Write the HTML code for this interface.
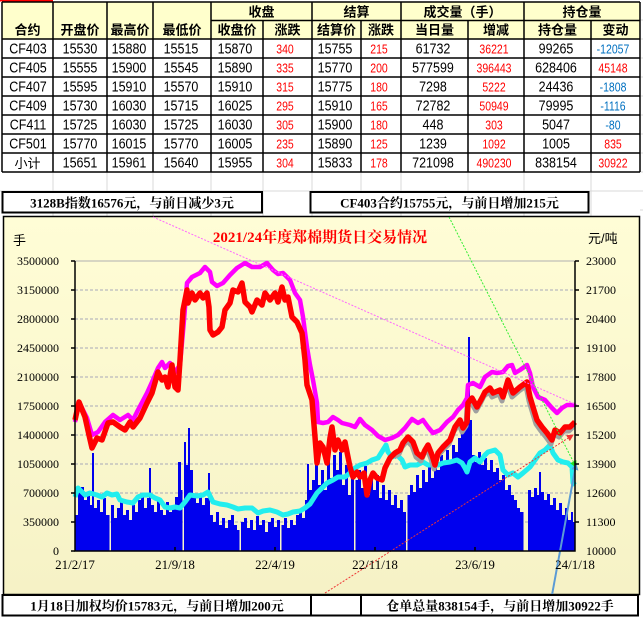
<!DOCTYPE html>
<html><head><meta charset="utf-8">
<style>
html,body{margin:0;padding:0;background:#fff;}
body{width:643px;height:617px;overflow:hidden;}
svg{display:block;}
</style></head>
<body>
<svg width="643" height="617" viewBox="0 0 643 617" xmlns="http://www.w3.org/2000/svg">
<defs>
<linearGradient id="bg" x1="0" y1="0" x2="0" y2="1"><stop offset="0" stop-color="#fffdd6"/><stop offset="1" stop-color="#f6f2c6"/></linearGradient>
<marker id="ag" markerWidth="7" markerHeight="7" refX="6" refY="3.5" orient="auto" markerUnits="userSpaceOnUse"><path d="M0,0 L7,3.5 L0,7 Z" fill="#22dd22"/></marker>
<marker id="ar" markerWidth="7" markerHeight="7" refX="6" refY="3.5" orient="auto" markerUnits="userSpaceOnUse"><path d="M0,0 L7,3.5 L0,7 Z" fill="#ee3333"/></marker>
<marker id="ab" markerWidth="7" markerHeight="7" refX="6" refY="3.5" orient="auto" markerUnits="userSpaceOnUse"><path d="M0,0 L7,3.5 L0,7 Z" fill="#5b9bd5"/></marker>
</defs>

<!-- spreadsheet faint grid -->
<g stroke="#d8d8d8" stroke-width="1">
<path d="M53,172V216M107,172V216M153,172V216M211,172V216M263,172V216M312,172V216M361,172V216M401,172V216M468,172V216M524,172V216M591,172V216"/>
<path d="M640,20H643M640,39H643M640,58H643M640,77H643M640,96H643M640,115H643M640,134H643M640,153H643M640,172H643M640,191H643M640,210H643M0,191H643"/>
</g>
<rect x="0" y="0" width="53" height="1.5" fill="#ff0000"/>

<!-- table -->
<rect x="2" y="2" width="638" height="37" fill="#ffffcc"/>
<rect x="2" y="39" width="638" height="133" fill="#ffffff"/>
<g stroke="#000" stroke-width="1.5" fill="none">
<path d="M2,2H640M211,20.5H640M2,39H640M2,58H640M2,77H640M2,96H640M2,115H640M2,134H640M2,153H640M2,172H640"/>
<path d="M2,2V172M53,2V172M107,2V172M153,2V172M211,2V172M312,2V172M401,2V172M524,2V172M640,2V172M263,20.5V172M361,20.5V172M468,20.5V172M591,20.5V172"/>
</g>
<g font-family="'Liberation Sans','Noto Sans CJK SC',sans-serif" font-weight="bold" font-size="13" text-anchor="middle" fill="#000">
<text x="261.5" y="16.5">收盘</text>
<text x="356.5" y="16.5">结算</text>
<text x="462.5" y="16.5">成交量（手）</text>
<text x="582" y="16.5">持仓量</text>
<text x="27.5" y="34.5">合约</text>
<text x="80" y="34.5">开盘价</text>
<text x="130" y="34.5">最高价</text>
<text x="182" y="34.5">最低价</text>
<text x="237" y="34.5">收盘价</text>
<text x="287.5" y="34.5">涨跌</text>
<text x="336.5" y="34.5">结算价</text>
<text x="381" y="34.5">涨跌</text>
<text x="434.5" y="34.5">当日量</text>
<text x="496" y="34.5">增减</text>
<text x="557.5" y="34.5">持仓量</text>
<text x="615.5" y="34.5">变动</text>
</g>

<g font-family="'Liberation Sans',sans-serif" font-size="12.5" text-anchor="middle" fill="#000">
<g transform="translate(0,53.5) scale(1,1.2)">
<text x="28">CF403</text><text x="80">15530</text><text x="129">15880</text><text x="181">15515</text><text x="235">15870</text>
<text x="285" fill="#f00" font-size="10.5">340</text><text x="335">15755</text><text x="379" fill="#f00" font-size="10.5">215</text>
<text x="433">61732</text><text x="494" fill="#f00" font-size="10.5">36221</text><text x="556">99265</text><text x="613" fill="#0070c0" font-size="10.5">-12057</text>
</g>
<g transform="translate(0,72.5) scale(1,1.2)">
<text x="28">CF405</text><text x="80">15555</text><text x="129">15900</text><text x="181">15545</text><text x="235">15890</text>
<text x="285" fill="#f00" font-size="10.5">335</text><text x="335">15770</text><text x="379" fill="#f00" font-size="10.5">200</text>
<text x="433">577599</text><text x="494" fill="#f00" font-size="10.5">396443</text><text x="556">628406</text><text x="613" fill="#f00" font-size="10.5">45148</text>
</g>
<g transform="translate(0,91.5) scale(1,1.2)">
<text x="28">CF407</text><text x="80">15595</text><text x="129">15910</text><text x="181">15570</text><text x="235">15910</text>
<text x="285" fill="#f00" font-size="10.5">315</text><text x="335">15775</text><text x="379" fill="#f00" font-size="10.5">180</text>
<text x="433">7298</text><text x="494" fill="#f00" font-size="10.5">5222</text><text x="556">24436</text><text x="613" fill="#0070c0" font-size="10.5">-1808</text>
</g>
<g transform="translate(0,110.5) scale(1,1.2)">
<text x="28">CF409</text><text x="80">15730</text><text x="129">16030</text><text x="181">15715</text><text x="235">16025</text>
<text x="285" fill="#f00" font-size="10.5">295</text><text x="335">15910</text><text x="379" fill="#f00" font-size="10.5">165</text>
<text x="433">72782</text><text x="494" fill="#f00" font-size="10.5">50949</text><text x="556">79995</text><text x="613" fill="#0070c0" font-size="10.5">-1116</text>
</g>
<g transform="translate(0,129.5) scale(1,1.2)">
<text x="28">CF411</text><text x="80">15725</text><text x="129">16030</text><text x="181">15725</text><text x="235">16030</text>
<text x="285" fill="#f00" font-size="10.5">305</text><text x="335">15900</text><text x="379" fill="#f00" font-size="10.5">180</text>
<text x="433">448</text><text x="494" fill="#f00" font-size="10.5">303</text><text x="556">5047</text><text x="613" fill="#0070c0" font-size="10.5">-80</text>
</g>
<g transform="translate(0,148.5) scale(1,1.2)">
<text x="28">CF501</text><text x="80">15770</text><text x="129">16015</text><text x="181">15770</text><text x="235">16005</text>
<text x="285" fill="#f00" font-size="10.5">235</text><text x="335">15890</text><text x="379" fill="#f00" font-size="10.5">125</text>
<text x="433">1239</text><text x="494" fill="#f00" font-size="10.5">1092</text><text x="556">1005</text><text x="613" fill="#f00" font-size="10.5">835</text>
</g>
<g transform="translate(0,167.5) scale(1,1.2)">
<text x="80">15651</text><text x="129">15961</text><text x="181">15640</text><text x="235">15955</text>
<text x="285" fill="#f00" font-size="10.5">304</text><text x="335">15833</text><text x="379" fill="#f00" font-size="10.5">178</text>
<text x="433">721098</text><text x="494" fill="#f00" font-size="10.5">490230</text><text x="556">838154</text><text x="613" fill="#f00" font-size="10.5">30922</text>
</g>
</g>
<text x="27.5" y="168" font-family="'Liberation Sans','Noto Sans CJK SC',sans-serif" font-size="13" text-anchor="middle">小计</text>

<!-- top info boxes -->
<g font-family="'Liberation Serif','Noto Serif CJK SC',serif" font-weight="bold" font-size="13" text-anchor="middle">
<rect x="2.5" y="192" width="259.5" height="20.5" fill="#fff" stroke="#000" stroke-width="2"/>
<text x="132" y="207.5">3128B指数16576元，与前日减少3元</text>
<rect x="310.5" y="192" width="278" height="20.5" fill="#fff" stroke="#000" stroke-width="2"/>
<text x="449.5" y="207.5">CF403合约15755元，与前日增加215元</text>
</g>

<!-- chart area -->
<rect x="3.5" y="216.5" width="636" height="378" fill="url(#bg)" stroke="#000" stroke-width="1.5"/>

<!-- gridlines -->
<line x1="75" y1="261" x2="575" y2="261" stroke="#b0b0b0" stroke-width="1"/>
<g stroke="#a8a8b8" stroke-width="1" stroke-dasharray="3,2">
<path d="M75,290H575M75,319H575M75,348H575M75,377H575M75,406H575M75,435H575M75,464H575M75,493H575M75,522H575"/>
</g>

<!-- volume bars -->
<path fill="#0000ee" d="M75,551 V515 H78 V490 H81 V487 H84 V500 H87 V492 H90 V505 H92 V453 H94 V508 H97 V500 H100 V512 H103 V498 H106 V515 H109.5 V551 H111 V505 H114 V518 H117 V508 H120 V502 H123 V515 H126 V510 H129 V520 H132 V505 H135 V512 H138 V500 H141 V495 H144 V508 H147 V498 H149 V468 H151 V505 H154 V512 H157 V500 H160 V510 H163 V515 H166 V502 H169 V512 H172 V505 H175 V497 H178 V462 H181 V490 H182.5 V551 H184 V442 H186 V465 H188 V428 H190 V470 H193 V495 H196 V503 H199 V496 H202 V505 H205 V498 H208 V473 H210 V515 H213 V522 H216 V512 H219 V525 H222 V518 H225 V528 H228 V520 H231 V515 H234 V525 H237 V530 H239.5 V551 H241 V522 H244 V518 H247 V528 H250 V520 H253 V530 H256 V516 H259 V525 H262 V520 H265 V532 H268 V522 H271 V518 H274 V527 H277 V520 H280 V551 H281.5 V525 H284 V518 H287 V528 H290 V520 H293 V525 H296 V515 H299 V510 H302 V518 H305 V500 H307 V464 H309 V490 H312 V480 H315 V458 H318 V485 H321 V470 H324 V490 H327 V460 H330 V478 H333 V455 H336 V470 H339 V452 H342 V485 H345 V465 H348 V495 H351 V475 H354 V551 H355.5 V480 H358 V470 H361 V488 H364 V466 H367 V495 H370 V478 H373 V490 H376 V475 H379 V498 H382 V485 H385 V500 H388 V490 H391 V505 H394 V495 H397 V508 H400 V500 H403 V512 H406 V551 H407.5 V495 H410 V485 H413 V492 H416 V475 H419 V488 H422 V470 H425 V482 H428 V465 H431 V478 H434 V460 H437 V470 H440 V455 H443 V465 H446 V450 H449 V460 H452 V445 H455 V452 H458 V438 H461 V430 H464 V428 H466 V384 H468 V337 H470 V420 H472 V455 H475 V462 H478 V452 H481 V465 H484 V458 H487 V470 H490 V460 H493 V472 H496 V468 H499 V480 H502 V475 H505 V490 H508 V485 H511 V495 H514 V500 H517 V508 H520 V512 H523.5 V551 H528 V490 H531 V497 H534 V488 H537 V495 H539 V472 H541 V492 H544 V500 H547 V494 H550 V505 H553 V498 H556 V510 H559 V503 H562 V515 H565 V508 H568 V520 H571 V512 H573 V522 H575 V551 Z"/>

<!-- cyan line -->
<polyline fill="none" stroke="#22eeee" stroke-width="5" stroke-linejoin="round" points="75,497 78,488 85,495 90,493 97,495 102,497 107,493 112,495 117,494 120,500 127,502 133,503 138,497 143,495 150,495 155,498 160,500 165,507 170,508 175,507 180,508 185,502 190,495 197,496 203,495 208,492 213,502 220,504 227,505 233,507 238,509 245,508 252,508 258,513 263,511 270,510 277,512 283,515 288,514 293,512 300,511 305,508 310,504 317,493 322,488 327,483 333,480 338,477 345,477 350,473 355,468 360,465 367,463 372,460 378,458 383,450 386,445 388,452 392,457 397,455 402,460 405,467 410,465 417,465 423,462 428,465 433,465 438,465 443,463 450,462 457,460 462,463 465,468 467,472 470,462 475,458 480,462 485,455 488,452 495,450 500,455 503,470 508,475 513,473 518,477 523,473 530,467 535,460 540,453 545,450 550,445 553,453 558,460 563,462 568,463 572,467 573,483 575,485"/>

<!-- gray line -->
<polyline fill="none" stroke="#a0a0a0" stroke-width="5" stroke-linejoin="round" transform="translate(-1,4)" points="395,453 400,450 403,443 408,437 413,442 417,453 422,457 425,450 428,445 432,455 435,465 438,453 443,447 450,440 455,427 460,420 463,428 467,422 468,403 472,398 477,407 482,398 485,392 490,388 493,393 500,390 503,397 508,380 513,393 520,387 527,382 530,397 533,407 537,420 542,427 547,433 552,440 555,430 560,433 565,427 570,427 575,422"/>

<!-- magenta line -->
<polyline fill="none" stroke="#ff00ff" stroke-width="4.5" stroke-linejoin="round" points="75,422 79,402 83,410 87,418 92,435 98,432 105,422 113,415 120,420 128,415 133,420 138,410 147,393 152,382 158,368 162,362 165,368 170,363 175,372 180,365 184,320 187,283 192,277 200,273 205,267 210,272 212,282 217,286 223,283 230,275 237,268 245,263 252,267 260,267 267,263 273,270 278,274 283,273 290,280 295,293 300,300 303,317 307,347 310,365 313,380 317,403 318,422 323,423 328,422 333,417 338,420 342,423 350,425 355,427 360,419 365,425 372,430 378,436 385,440 392,438 398,435 405,428 412,419 418,423 423,420 428,427 433,433 440,430 447,422 453,417 458,410 463,405 467,398 468,385 473,383 480,387 485,377 492,372 497,373 503,372 508,366 512,365 515,373 520,370 527,365 530,373 533,387 538,397 545,400 552,408 557,413 562,408 567,405 575,405"/>

<!-- red line -->
<polyline fill="none" stroke="#ff0000" stroke-width="5.5" stroke-linejoin="round" points="75,420 79,402 85,417 89,435 92,448 97,438 102,440 108,423 113,422 120,427 125,430 130,422 133,427 140,418 147,403 152,393 158,372 162,380 165,377 168,387 172,365 175,387 178,390 180,360 183,310 187,290 188,303 192,293 195,300 200,293 203,298 207,293 209,307 210,330 213,335 218,332 222,327 225,310 230,303 233,290 238,292 242,283 245,302 250,307 252,312 257,300 262,305 265,293 270,300 275,293 278,302 282,287 285,300 288,297 292,317 297,322 302,333 305,360 307,385 312,400 315,437 317,463 320,443 323,447 327,463 330,438 332,427 335,450 338,440 342,450 345,442 350,467 353,477 357,472 360,477 364,473 367,495 370,480 373,473 377,478 382,480 385,468 390,458 395,453 400,450 403,443 408,437 413,442 417,453 422,457 425,450 428,445 432,455 435,465 438,453 443,447 450,440 455,427 460,420 463,428 467,422 468,403 472,398 477,407 482,398 485,392 490,388 493,393 500,390 503,397 508,380 513,393 520,387 527,382 530,397 533,407 537,420 542,427 547,433 552,440 555,430 560,433 565,427 570,427 575,422"/>

<!-- trend lines -->
<line x1="153" y1="217" x2="577" y2="405" stroke="#ff66ff" stroke-width="1" stroke-dasharray="2,1.5"/>
<line x1="449" y1="217" x2="576" y2="467" stroke="#33ee33" stroke-width="1" stroke-dasharray="2,1.5" marker-end="url(#ag)"/>
<line x1="325" y1="593" x2="573" y2="435" stroke="#ee3333" stroke-width="1" stroke-dasharray="2,1.5" marker-end="url(#ar)"/>
<line x1="552" y1="595" x2="576" y2="464" stroke="#5b9bd5" stroke-width="2" marker-end="url(#ab)"/>

<!-- axes -->
<g stroke="#000" stroke-width="1.5" fill="none">
<path d="M75,261V551H575V261"/>
<path d="M71,261H75M71,290H75M71,319H75M71,348H75M71,377H75M71,406H75M71,435H75M71,464H75M71,493H75M71,522H75M71,551H75"/>
<path d="M575,261H579M575,290H579M575,319H579M575,348H579M575,377H579M575,406H579M575,435H579M575,464H579M575,493H579M575,522H579"/>
<path d="M175,547V551M275,547V551M375,547V551M475,547V551"/>
</g>

<!-- axis labels -->
<g font-family="'Liberation Serif',serif" font-size="12" fill="#000" text-anchor="end">
<text x="59" y="265">3500000</text>
<text x="59" y="294">3150000</text>
<text x="59" y="323">2800000</text>
<text x="59" y="352">2450000</text>
<text x="59" y="381">2100000</text>
<text x="59" y="410">1750000</text>
<text x="59" y="439">1400000</text>
<text x="59" y="468">1050000</text>
<text x="59" y="497">700000</text>
<text x="59" y="526">350000</text>
<text x="59" y="555">0</text>
</g>
<g font-family="'Liberation Serif',serif" font-size="12" fill="#000" text-anchor="start">
<text x="586" y="265">23000</text>
<text x="586" y="294">21700</text>
<text x="586" y="323">20400</text>
<text x="586" y="352">19100</text>
<text x="586" y="381">17800</text>
<text x="586" y="410">16500</text>
<text x="586" y="439">15200</text>
<text x="586" y="468">13900</text>
<text x="586" y="497">12600</text>
<text x="586" y="526">11300</text>
<text x="586" y="555">10000</text>
</g>
<g font-family="'Liberation Serif',serif" font-size="13" fill="#000" text-anchor="middle">
<text x="75" y="569">21/2/17</text>
<text x="175" y="569">21/9/18</text>
<text x="275" y="569">22/4/19</text>
<text x="375" y="569">22/11/18</text>
<text x="475" y="569">23/6/19</text>
<text x="575" y="569">24/1/18</text>
</g>
<text x="13" y="245" font-family="'Liberation Sans','Noto Sans CJK SC',sans-serif" font-size="13">手</text>
<text x="588" y="243" font-family="'Liberation Sans','Noto Sans CJK SC',sans-serif" font-size="13">元/吨</text>
<text x="320" y="242" font-family="'Liberation Serif','Noto Serif CJK SC',serif" font-weight="bold" font-size="15" fill="#ff0000" text-anchor="middle">2021/24年度郑棉期货日交易情况</text>

<!-- bottom boxes -->
<g font-family="'Liberation Serif','Noto Serif CJK SC',serif" font-weight="bold" font-size="13" text-anchor="middle">
<rect x="2.5" y="595" width="308.5" height="20.5" fill="#fff" stroke="#000" stroke-width="2"/>
<rect x="311" y="595" width="50" height="20.5" fill="#fff" stroke="#000" stroke-width="2"/>
<rect x="361" y="595" width="277" height="20.5" fill="#fff" stroke="#000" stroke-width="2"/>
<text x="157" y="610.5">1月18日加权均价15783元，与前日增加200元</text>
<text x="500" y="610.5">仓单总量838154手，与前日增加30922手</text>
</g>
</svg>
</body></html>
